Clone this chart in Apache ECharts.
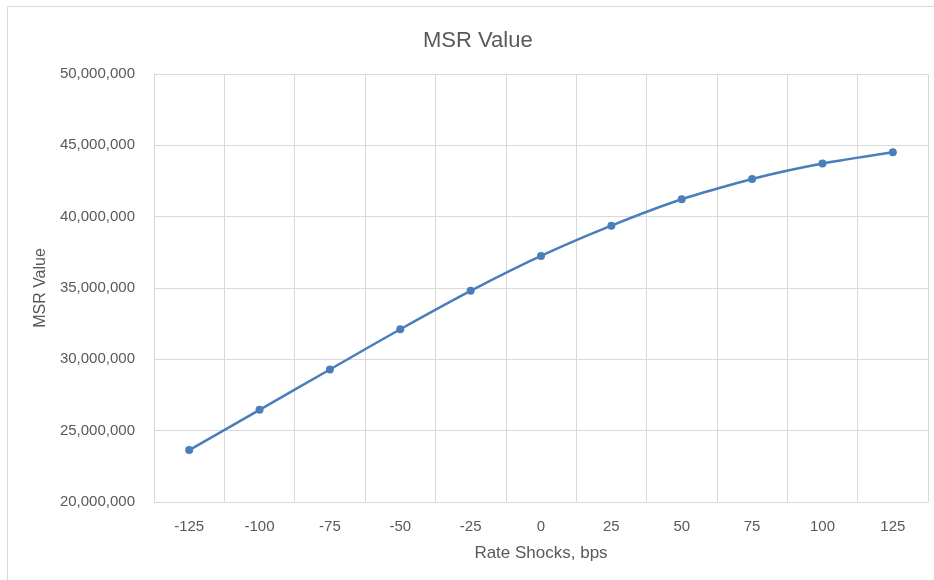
<!DOCTYPE html>
<html>
<head>
<meta charset="utf-8">
<script src="https://cdn.jsdelivr.net/npm/echarts@6/dist/echarts.min.js"></script>
<style>
html,body{margin:0;padding:0;background:#fff;}
#chart{width:934px;height:580px;}
</style>
</head>
<body>
<div id="chart"></div>
<script>
const categories = ['-125','-100','-75','-50','-25','0','25','50','75','100','125'];
const msrValues = [23640000, 26460000, 29290000, 32110000, 34800000, 37250000, 39370000, 41220000, 42640000, 43720000, 44510000];
const yTicks = { min: 20000000, max: 50000000, interval: 5000000 };

const FONT = 'Liberation Sans';
const chart = echarts.init(document.getElementById('chart'), null, {renderer:'canvas'});
chart.setOption({
  animation: false,
  backgroundColor: '#fff',
  title: {
    text: 'MSR Value',
    left: 418,
    top: 25,
    textStyle: { fontFamily: FONT, fontSize: 22, fontWeight: 'normal', color: '#595959' }
  },
  graphic: [{
    type: 'rect',
    shape: { x: 7.5, y: 6.5, width: 940, height: 600 },
    style: { fill: 'none', stroke: '#d9d9d9', lineWidth: 1 },
    silent: true
  }],
  grid: { left: 154, right: 6, top: 74, bottom: 78, containLabel: false },
  xAxis: {
    type: 'category',
    data: categories,
    boundaryGap: true,
    name: 'Rate Shocks, bps',
    nameLocation: 'middle',
    nameGap: 43,
    nameTextStyle: { fontFamily: FONT, fontSize: 17, color: '#595959' },
    axisLine: { show: true, lineStyle: { color: '#d9d9d9', width: 1 } },
    axisTick: { show: false },
    axisLabel: { fontFamily: FONT, fontSize: 15, color: '#595959', margin: 17 },
    splitLine: { show: true, lineStyle: { color: '#d9d9d9', width: 1 } }
  },
  yAxis: {
    type: 'value',
    min: yTicks.min,
    max: yTicks.max,
    interval: yTicks.interval,
    name: 'MSR Value',
    nameLocation: 'middle',
    nameGap: 104,
    nameRotate: 90,
    nameTextStyle: { fontFamily: FONT, fontSize: 16, color: '#595959' },
    axisLine: { show: true, lineStyle: { color: '#d9d9d9', width: 1 } },
    axisTick: { show: false },
    axisLabel: {
      fontFamily: FONT, fontSize: 15, color: '#595959', margin: 19,
      formatter: v => v.toLocaleString('en-US')
    },
    splitLine: { show: true, lineStyle: { color: '#d9d9d9', width: 1 } }
  },
  series: [{
    type: 'line',
    data: msrValues,
    smooth: 0.2,
    symbol: 'circle',
    symbolSize: 8,
    lineStyle: { color: '#4a7ebb', width: 2.5 },
    itemStyle: { color: '#4a7ebb' }
  }]
});
</script>
</body>
</html>
